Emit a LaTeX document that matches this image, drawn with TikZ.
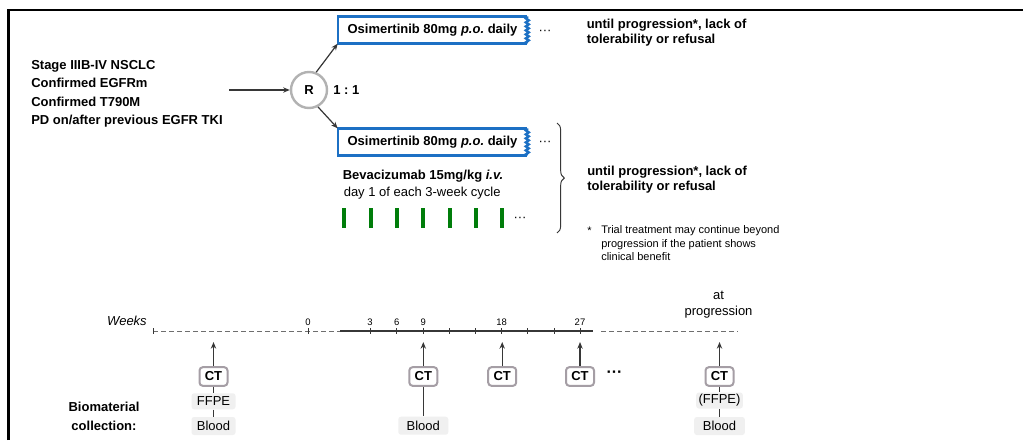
\documentclass[tikz,border=0pt]{standalone}
\usepackage{fontspec}
\setmainfont{Liberation Sans}
\usetikzlibrary{arrows.meta,decorations.pathmorphing,decorations.pathreplacing}
\definecolor{boxblue}{RGB}{28,112,196}
\definecolor{bargreen}{RGB}{0,125,10}
\definecolor{ctgray}{RGB}{165,158,165}
\definecolor{lightfill}{RGB}{240,240,240}
\definecolor{rgray}{RGB}{178,178,178}
\definecolor{dark}{RGB}{55,55,55}
\definecolor{dashgray}{RGB}{110,110,110}
\frenchspacing
\begin{document}
\begin{tikzpicture}[x=0.75pt,y=-0.75pt,
  txt/.style={inner sep=0pt, font=\fontsize{9.75}{11.7}\selectfont},
  btxt/.style={inner sep=0pt, font=\fontsize{9.75}{11.7}\selectfont\bfseries},
  osibox/.style={btxt, minimum width=141.75pt, minimum height=20pt, fill=white},
  boxline/.style={draw=boxblue, line width=1.8pt},
  wavy/.style={decorate, decoration={snake, amplitude=1.1pt, segment length=3pt}},
  arr/.style={draw=dark, line width=0.9pt, -{Stealth[length=5pt,width=4pt]}},
  conn/.style={draw=dark, line width=0.9pt},
  ctbox/.style={btxt, draw=ctgray, line width=1.5pt, rounded corners=2.5pt, fill=white, minimum width=21pt, minimum height=14pt},
  grbox/.style={txt, fill=lightfill, rounded corners=2pt, minimum height=12.5pt, minimum width=34pt},
  tnum/.style={inner sep=0pt, font=\fontsize{7.1}{8.5}\selectfont},
  dotsn/.style={inner sep=0pt, font=\fontsize{9.75}{11.7}\selectfont\bfseries},
  bar/.style={draw=bargreen, line width=3pt},
  tick/.style={draw=dark, line width=0.7pt}
]
\useasboundingbox (0,0) rectangle (1023,440);
\fill[white] (0,0) rectangle (1023,440);
% frame
\draw[line width=2.2pt] (8.5,440) -- (8.5,10) -- (1023,10);

% inclusion criteria
\node[btxt, anchor=base west] (c1) at (31,69) {Stage IIIB-IV NSCLC};
\node[btxt, anchor=base west] (c2) at (31,87.5) {Confirmed EGFRm};
\node[btxt, anchor=base west] (c3) at (31,106) {Confirmed T790M};
\node[btxt, anchor=base west] (c4) at (31,124.5) {PD on/after previous EGFR TKI};

% randomisation
\node[btxt, circle, draw=rgray, line width=1.8pt, minimum size=27pt] (R) at (309,90) {R};
\coordinate (inStart) at (229,90);
\draw[arr] (inStart) -- (R.west);
\node[btxt, anchor=west] (ratio) at (333,90.5) {1 : 1};

% arm 1
\node[osibox] (box1) at (432.5,30) {Osimertinib 80mg \textit{p.o.} daily};
\draw[boxline] (box1.north east) -- (box1.north west) -- (box1.south west) -- (box1.south east);
\draw[boxline, wavy] (box1.south east) -- (box1.north east);
\node[txt] (dots1) at (545,32) {···};
\node[btxt, anchor=west, align=left, font=\fontsize{9.75}{11.25}\selectfont\bfseries] (until1) at (586.5,33) {until progression*, lack of\\tolerability or refusal};

% arm 2
\node[osibox] (box2) at (432.5,142) {Osimertinib 80mg \textit{p.o.} daily};
\draw[boxline] (box2.north east) -- (box2.north west) -- (box2.south west) -- (box2.south east);
\draw[boxline, wavy] (box2.south east) -- (box2.north east);
\node[txt] (dots2) at (545,143) {···};
\draw[arr] (R.68) -- (box1.south west);
\draw[arr] (R.-62) -- (box2.north west);

\node[btxt, anchor=base west] (bev) at (342.5,179.5) {Bevacizumab 15mg/kg \textit{i.v.}};
\node[txt, anchor=base west] (cyc) at (343.5,196) {day 1 of each 3-week cycle};
\foreach \x in {344,370.7,396.7,423,449.7,475.7,502}{
  \draw[bar] (\x,208) -- (\x,228);
}
\node[txt] (dots3) at (520,219) {···};

\draw[draw=dark, line width=0.7pt, decorate, decoration={brace, amplitude=5.5pt}] (557,123) -- (557,233);
\node[btxt, anchor=west, align=left, font=\fontsize{9.75}{11.25}\selectfont\bfseries] (until2) at (587,180) {until progression*, lack of\\tolerability or refusal};

\node[inner sep=0pt, anchor=base, font=\fontsize{8.25}{10}\selectfont] (star) at (589.5,234) {*};
\node[inner sep=0pt, anchor=north west, align=left, font=\fontsize{8.25}{10}\selectfont] (foot) at (601,225.5) {Trial treatment may continue beyond\\progression if the patient shows\\clinical benefit};

% timeline
\node[txt, anchor=east, font=\fontsize{9.75}{11.7}\selectfont\itshape] (weeks) at (147,320.5) {Weeks};
\draw[draw=dashgray, line width=0.7pt, dash pattern=on 3.4pt off 2.6pt] (153,331) -- (340,331);
\draw[tick] (153,328) -- (153,334);
\draw[tick] (308,328) -- (308,334);
\draw[draw=dark, line width=0.9pt] (340,331) -- (593,331);
\foreach \x in {370,396.7,423.3,449.3,475.7,501.7,527.7,554,580}{
  \draw[tick] (\x,328) -- (\x,334);
}
\draw[draw=dashgray, line width=0.7pt, dash pattern=on 3.4pt off 2.6pt] (601,331) -- (738,331);
\node[tnum] (n0) at (308,322.5) {0};
\node[tnum] (n3) at (370,322.5) {3};
\node[tnum] (n6) at (396.7,322.5) {6};
\node[tnum] (n9) at (423.3,322.5) {9};
\node[tnum] (n18) at (501.7,322.5) {18};
\node[tnum] (n27) at (580,322.5) {27};
\node[txt, align=center, font=\fontsize{9.75}{12}\selectfont] (atprog) at (718.5,305) {at\\progression};

% CT columns
\node[ctbox] (ct1) at (213.5,376.5) {CT};
\node[ctbox] (ct2) at (423.3,376.5) {CT};
\node[ctbox] (ct3) at (502.2,376.5) {CT};
\node[ctbox] (ct4) at (580,376.5) {CT};
\node[ctbox] (ct5) at (719.5,376.5) {CT};
\node[dotsn, font=\fontsize{12}{14}\selectfont\bfseries] (dots4) at (614.5,374.5) {···};
\foreach \i/\x in {1/213.5,2/423.3,3/502.2,4/580,5/719.5}{
  \coordinate (a\i) at (\x,342);
  \draw[arr] (ct\i) -- (a\i);
}
\node[grbox, minimum width=33pt, minimum height=12pt] (f1) at (213.5,401.3) {FFPE};
\node[grbox, minimum width=33pt, minimum height=13.5pt] (b1) at (213.5,426) {Blood};
\node[grbox, minimum width=37.5pt, minimum height=13.5pt] (b2) at (423.3,425.7) {Blood};
\node[grbox, minimum width=35pt, minimum height=12pt] (f5) at (719.5,400.5) {(FFPE)};
\node[grbox, minimum width=38pt, minimum height=13.5pt] (b5) at (719.5,426) {Blood};
\draw[conn] (ct1) -- (f1);
\draw[conn] (f1) -- (b1);
\draw[conn] (ct2) -- (b2);
\draw[conn] (ct5) -- (f5);
\draw[conn] (f5) -- (b5);

\node[btxt, align=center, font=\fontsize{9.75}{14.25}\selectfont\bfseries] (bio) at (104,416.5) {Biomaterial\\collection:};
\end{tikzpicture}
\end{document}
